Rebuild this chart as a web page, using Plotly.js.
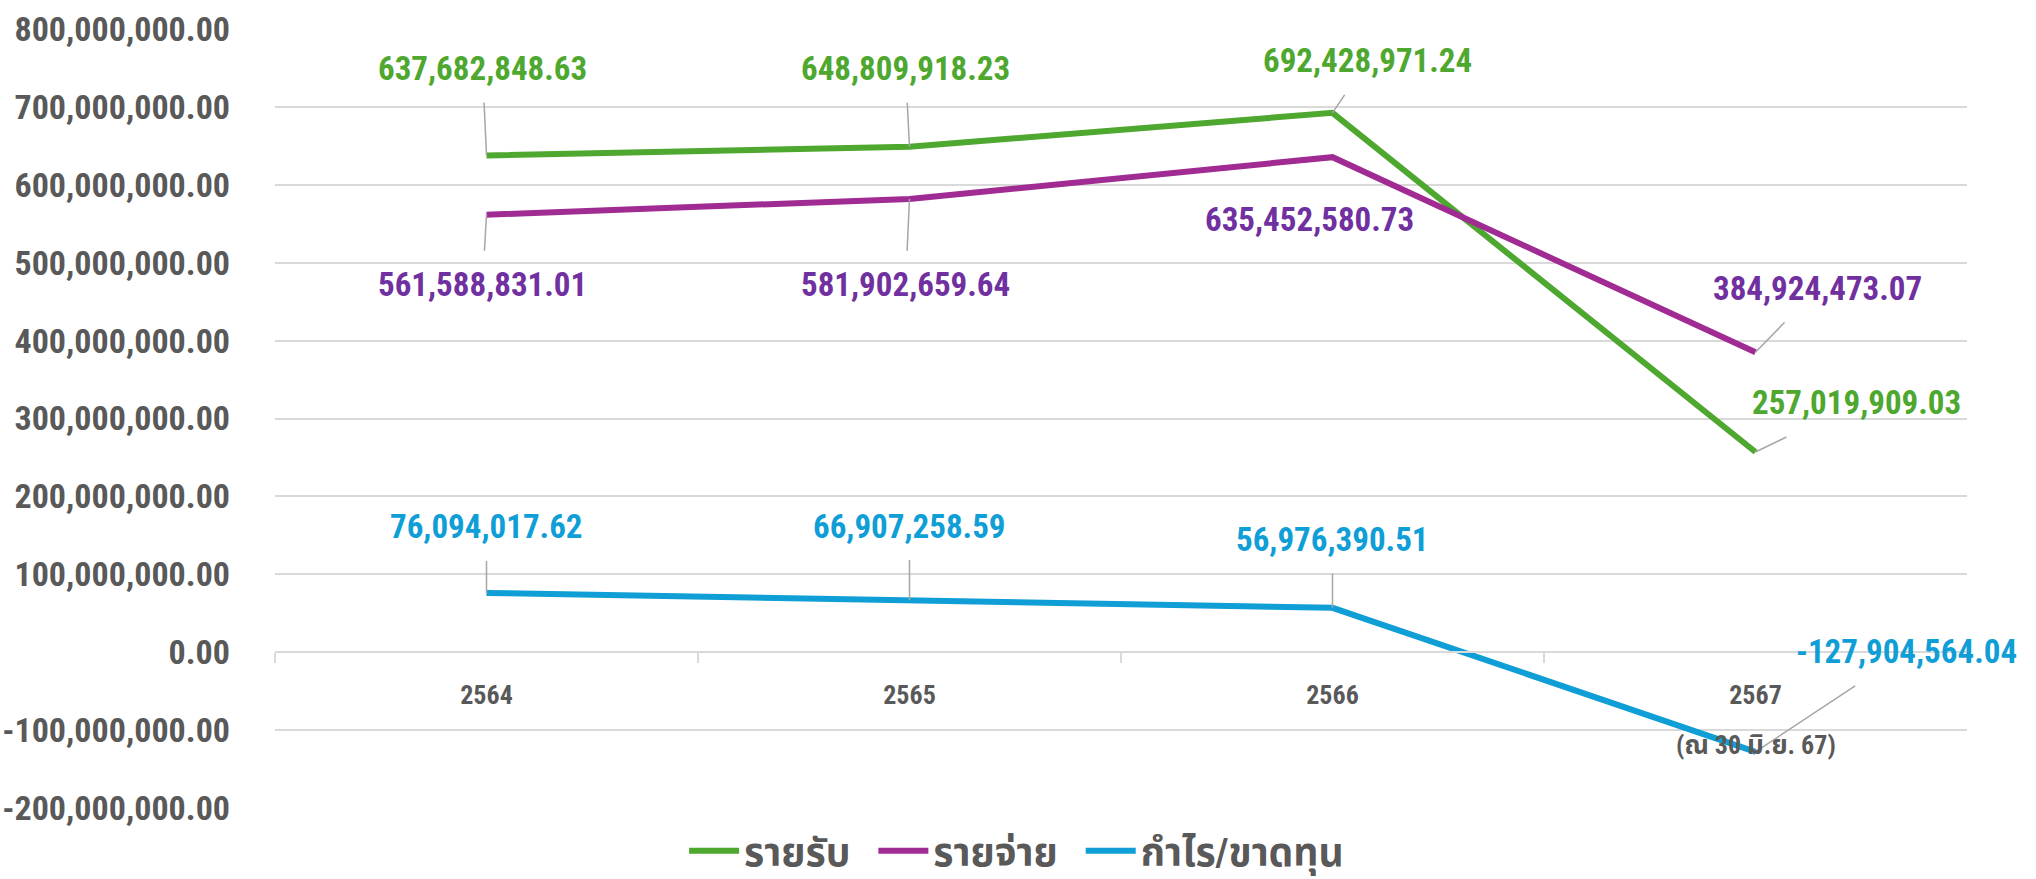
<!DOCTYPE html>
<html>
<head>
<meta charset="utf-8">
<script src="https://cdn.plot.ly/plotly-3.0.1.min.js"></script>
<style>
html,body{margin:0;padding:0;background:#fff;}
#chart{width:2036px;height:879px;}
#chart text{font-stretch:condensed;}
</style>
</head>
<body>
<div id="chart"></div>
<script>
const categories = ['2564', '2565', '2566', '2567'];
const categoryNotes = ['', '', '', '(ณ 30 มิ.ย. 67)'];
const revenue = [637682848.63, 648809918.23, 692428971.24, 257019909.03];
const expenses = [561588831.01, 581902659.64, 635452580.73, 384924473.07];
const profit = [76094017.62, 66907258.59, 56976390.51, -127904564.04];
const seriesNames = ['รายรับ', 'รายจ่าย', 'กำไร/ขาดทุน'];
const yTicks = [-200000000, -100000000, 0, 100000000, 200000000, 300000000, 400000000, 500000000, 600000000, 700000000, 800000000];

const FONT = '"Roboto Condensed", "Liberation Sans Narrow", "Noto Sans Condensed", "DejaVu Sans Condensed", "Noto Sans Thai Condensed", "Noto Sans", "Noto Sans Thai", sans-serif';
const fmt = v => v.toLocaleString('en-US', {minimumFractionDigits: 2, maximumFractionDigits: 2});

const lineColors = ['#4EA72E', '#A02B93', '#0F9ED5'];
const labelColors = ['#4EA72E', '#7030A0', '#0F9ED5'];
const series = [revenue, expenses, profit];

// label offsets in pixels (ax, ay) relative to each point
const offsets = [
  [[-4, -87], [-4, -78], [35, -52], [101, -49]],
  [[-4, 70], [-4, 86], [-23, 62], [62, -64]],
  [[0, -66], [0, -74], [0, -68], [151, -100]]
];

const traces = series.map((vals, i) => ({
  x: categories.map((c, j) => j), y: vals, type: 'scatter', mode: 'lines',
  name: '<b>' + seriesNames[i] + '</b>' + (i < series.length - 1 ? '&nbsp;&nbsp;' : ''),
  line: {color: lineColors[i], width: 6},
  hoverinfo: 'skip'
}));

const annotations = [];
series.forEach((vals, i) => {
  vals.forEach((v, j) => {
    annotations.push({
      x: j, y: v, xref: 'x', yref: 'y',
      text: '<b>' + fmt(v) + '</b>',
      showarrow: true, arrowhead: 0, arrowwidth: 1.5, arrowcolor: '#A6A6A6',
      ax: offsets[i][j][0], ay: offsets[i][j][1],
      borderpad: 14,
      font: {family: FONT, size: 33, color: labelColors[i]}
    });
  });
});
categoryNotes.forEach((note, j) => {
  if (!note) return;
  annotations.push({
    x: j, y: 0, xref: 'x', yref: 'y', yshift: -93, showarrow: false,
    text: '<b>' + note + '</b>',
    font: {family: FONT, size: 26, color: '#595959'}
  });
});

const layout = {
  width: 2036, height: 879,
  margin: {l: 275, r: 69, t: 29, b: 71},
  paper_bgcolor: '#ffffff', plot_bgcolor: '#ffffff',
  showlegend: true,
  legend: {
    orientation: 'h', x: 0.336, xanchor: 'left', xref: 'container',
    y: 0.032, yanchor: 'middle', yref: 'container',
    font: {family: FONT, size: 39, color: '#595959'}, itemwidth: 50
  },
  xaxis: {
    type: 'linear', range: [-0.5, 3.5], anchor: 'free', position: 0.2,
    showline: true, linecolor: '#D9D9D9', linewidth: 2,
    tickvals: categories.map((c, j) => j), ticktext: categories.map(c => '<b>' + c + '</b>'),
    ticks: '', showgrid: false, zeroline: false,
    ticklabelstandoff: 20,
    tickfont: {family: FONT, size: 26, color: '#595959'}
  },
  xaxis2: {
    overlaying: 'x', anchor: 'free', position: 0.2, range: [-0.5, 3.5],
    tickvals: [-0.5, 0.5, 1.5, 2.5, 3.5], showticklabels: false,
    ticks: 'outside', ticklen: 10, tickcolor: '#D9D9D9', tickwidth: 2,
    showgrid: false, zeroline: false, showline: false
  },
  yaxis: {
    range: [-200000000, 800000000],
    tickvals: yTicks, ticktext: yTicks.map(v => '<b>' + fmt(v) + '</b>'),
    gridcolor: '#D9D9D9', gridwidth: 2, zeroline: false, showline: false,
    ticks: '', ticklabelstandoff: 44,
    tickfont: {family: FONT, size: 34, color: '#595959'}
  },
  annotations: annotations
};

traces.push({x: [-0.5, 3.5], y: [0, 0], xaxis: 'x2', type: 'scatter', mode: 'lines',
  line: {width: 0}, showlegend: false, hoverinfo: 'skip'});

Plotly.newPlot('chart', traces, layout, {displayModeBar: false, staticPlot: true});
</script>
</body>
</html>
